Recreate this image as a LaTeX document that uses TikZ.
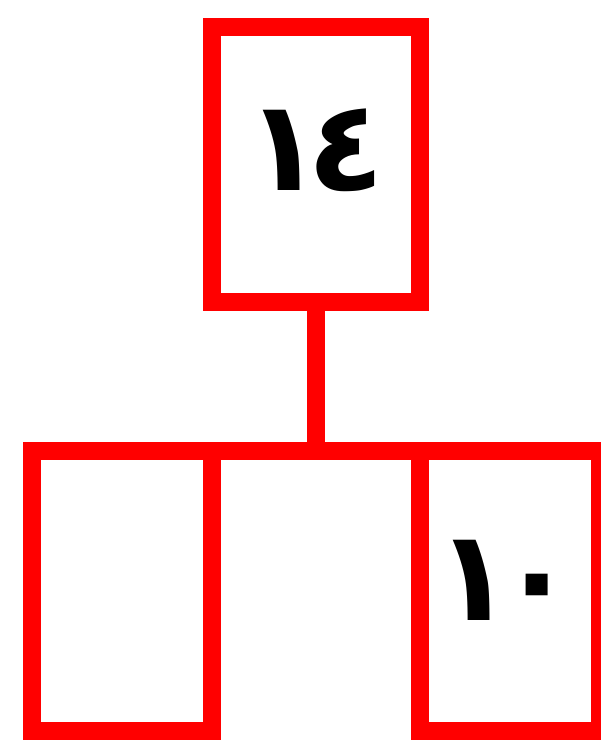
\documentclass[tikz,border=0pt]{standalone}
\usepackage{fontspec}
\newfontfamily\arabicfont[Script=Arabic]{DejaVu Sans}
\usetikzlibrary{positioning}

\begin{document}
\begin{tikzpicture}[
  x=0.02cm, y=-0.02cm,
  cell/.style={draw=red, line width=0.36cm, outer sep=0pt, inner sep=0pt, fill=white},
  digits/.style={font=\arabicfont\bfseries\fontsize{72}{72}\selectfont},
  link/.style={draw=red, line width=0.36cm}
]
\useasboundingbox (0,0) rectangle (600,743);
\node[cell, minimum width=4.16cm, minimum height=5.5cm] (top) at (316,164.5) {};
\node[cell, minimum width=3.6cm, minimum height=5.6cm] (left) at (122,591) {};
\node[cell, minimum width=3.6cm, minimum height=5.6cm] (right) at (510,591) {};
% labels
\node[digits] (toplabel) at (315,150) {١\kern-9pt٤};
\node[digits] (rightlabel) at (506,580) {١\kern-8pt٠};
% connectors
\draw[link] (left.north west) -- (right.north east);
\draw[link] (top.south) -- (top.south |- left.north);
\end{tikzpicture}
\end{document}
